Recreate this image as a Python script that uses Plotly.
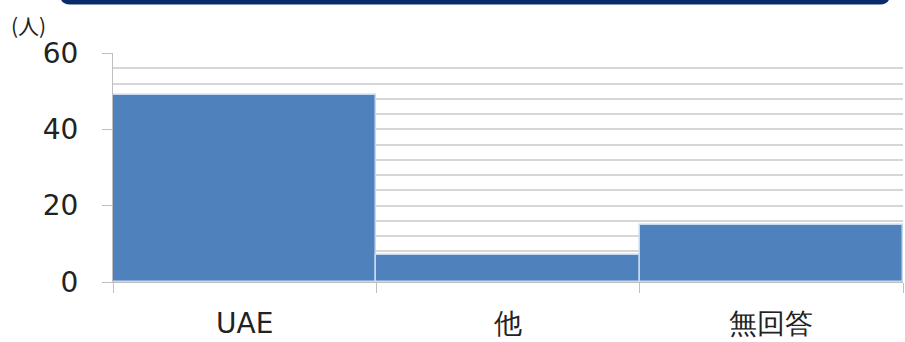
import plotly.graph_objects as go

# Respondents by answer
categories = ["UAE", "他", "無回答"]
counts = [49, 7, 15]
y_tick_vals = [0, 20, 40, 60]
y_tick_text = ["0", "20", "40", "60"]

W, H = 905, 342
ML, MR, MT, MB = 113, 2, 53, 58
PW, PH = W - ML - MR, H - MT - MB


def px_x(px):
    return (px - ML) / PW


def px_y(py):
    return 1 - (py - MT) / PH


fig = go.Figure()
fig.add_trace(go.Bar(
    x=categories,
    y=counts,
    marker=dict(color="#4F81BD", line=dict(color="#C6D9F1", width=1.5)),
    hoverinfo="x+y",
))

# Navy header band with rounded lower corners
x0, x1, y0, y1, r = px_x(60), px_x(890), px_y(-12), px_y(4), 10
rx, ry = r / PW, r / PH
path = (
    f"M {x0},{y0} L {x1},{y0} L {x1},{y1 + ry} "
    f"Q {x1},{y1} {x1 - rx},{y1} L {x0 + rx},{y1} "
    f"Q {x0},{y1} {x0},{y1 + ry} Z"
)
fig.add_shape(type="path", path=path, xref="paper", yref="paper",
              fillcolor="#0B2A6B", line=dict(width=0), layer="above")

fig.add_annotation(text="(人)", xref="paper", yref="paper",
                   x=px_x(9), y=px_y(25), xanchor="left", yanchor="middle",
                   showarrow=False,
                   font=dict(family="Noto Sans CJK JP", size=21, color="#222222"))

fig.update_layout(
    width=W, height=H, autosize=False,
    margin=dict(l=ML, r=MR, t=MT, b=MB),
    paper_bgcolor="white", plot_bgcolor="white",
    bargap=0, showlegend=False,
    font=dict(family="DejaVu Sans", color="#222222"),
)
fig.update_xaxes(
    type="category",
    tickson="boundaries", ticks="outside", ticklen=10, tickcolor="#BFBFBF",
    showline=True, linecolor="#BFBFBF", linewidth=1,
    showgrid=False,
    tickfont=dict(family="DejaVu Sans", size=28, color="#222222"),
    ticklabelstandoff=16,
)
fig.update_yaxes(
    range=[0, 60],
    tickvals=y_tick_vals, ticktext=y_tick_text,
    ticks="outside", ticklen=10, tickcolor="#BFBFBF",
    showline=True, linecolor="#BFBFBF", linewidth=1,
    showgrid=True, gridcolor="#D6D6D6", gridwidth=2,
    minor=dict(dtick=4, showgrid=True, gridcolor="#D6D6D6", gridwidth=2, ticks=""),
    zeroline=False,
    tickfont=dict(family="DejaVu Sans", size=28, color="#222222"),
    ticklabelstandoff=18,
)

fig.write_html("out.html")
